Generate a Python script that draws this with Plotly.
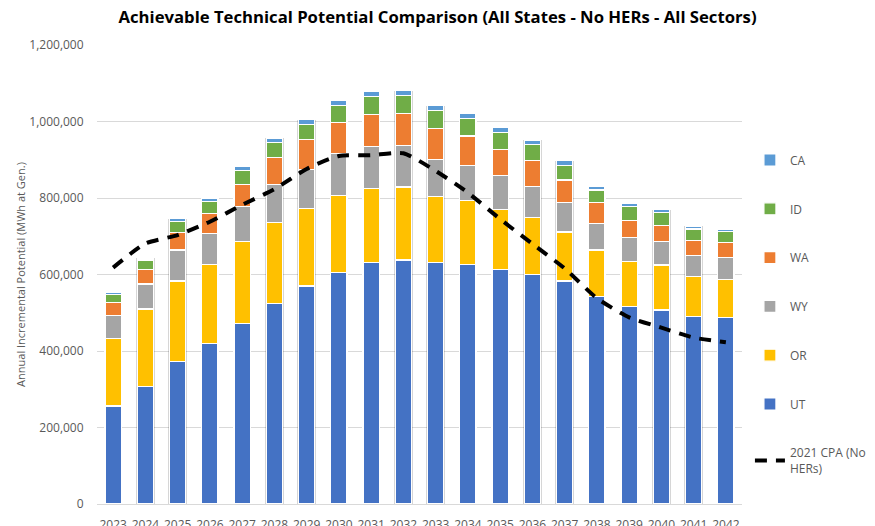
import plotly.graph_objects as go

years = [str(y) for y in range(2023, 2043)]
ut = [256, 307, 372, 419, 472, 525, 570, 605, 631, 638, 631, 627, 614, 601, 583, 542, 516, 507, 491, 488]
or_ = [177, 203, 211, 208, 215, 211, 203, 201, 194, 191, 172, 166, 156, 149, 128, 122, 119, 118, 103, 99]
wy = [59, 65, 81, 81, 90, 100, 102, 111, 109, 108, 98, 91, 88, 81, 77, 70, 62, 61, 55, 58]
wa = [35, 38, 45, 52, 59, 70, 77, 81, 85, 83, 81, 78, 69, 68, 59, 54, 45, 42, 39, 38]
id_ = [21, 25, 29, 30, 35, 39, 41, 44, 46, 48, 46, 46, 45, 40, 39, 33, 35, 34, 31, 29]
ca = [5, 5, 8, 9, 12, 11, 12, 13, 13, 13, 13, 12, 13, 12, 12, 10, 9, 7, 8, 7]
cpa = [618, 681, 703, 738, 782, 823, 876, 910, 912, 917, 871, 814, 745, 680, 616, 538, 488, 461, 435, 423]

def k(v):
    return [x * 1000 for x in v]

series = [
    ("UT", ut, "#4472C4", 6),
    ("OR", or_, "#FFC000", 5),
    ("WY", wy, "#A5A5A5", 4),
    ("WA", wa, "#ED7D31", 3),
    ("ID", id_, "#70AD47", 2),
    ("CA", ca, "#5B9BD5", 1),
]

totals = [sum(v) for v in zip(ut, or_, wy, wa, id_, ca)]

fig = go.Figure()

# subtle shadow behind bars
fig.add_trace(go.Bar(
    x=years, y=k(totals), width=0.58, marker=dict(color="rgba(0,0,0,0.16)", line=dict(width=0)),
    showlegend=False, hoverinfo="skip", xaxis="x", yaxis="y",
))

for name, vals, color, rank in series:
    fig.add_trace(go.Bar(
        x=years, y=k(vals), name=name, xaxis="x2", yaxis="y",
        marker=dict(color=color, line=dict(color="white", width=1.2)),
        width=0.5, legendgroup=name, legendrank=rank,
    ))

fig.add_trace(go.Scatter(
    x=years, y=k(cpa), name="2021 CPA (No<br>HERs)", mode="lines", xaxis="x2", yaxis="y",
    line=dict(color="black", width=4, dash="12px,9px", shape="spline", smoothing=0.6),
    legendgroup="cpa", legendrank=7,
))

fig.update_layout(
    width=875, height=526,
    barmode="stack",
    paper_bgcolor="white", plot_bgcolor="white",
    margin=dict(l=89, r=135, t=37, b=30),
    font=dict(family="Open Sans, sans-serif", color="#595959", size=12),
    title=dict(
        text="<b>Achievable Technical Potential Comparison (All States - No HERs - All Sectors)</b>",
        x=0.4909, xanchor="center", y=0.983, yanchor="middle",
        font=dict(family="Open Sans, sans-serif", size=16.7, color="#000000"),
    ),
    xaxis=dict(
        type="category", showgrid=False, showline=True, linecolor="#D9D9D9",
        ticks="outside", ticklen=10, tickcolor="rgba(0,0,0,0)", automargin=False,
        tickfont=dict(size=12, color="#595959"), range=[-0.5, 19.5],
    ),
    xaxis2=dict(
        type="category", overlaying="x", matches="x", showgrid=False, automargin=False,
        showticklabels=False, showline=False, range=[-0.5, 19.5],
    ),
    yaxis=dict(
        range=[0, 1200000], dtick=200000, tickformat=",", showgrid=True,
        gridcolor="#D9D9D9", gridwidth=1, zeroline=False, automargin=False,
        ticks="outside", ticklen=10, tickcolor="rgba(0,0,0,0)",
        tickfont=dict(size=12, color="#595959"),
        title=dict(text="Annual Incremental Potential (MWh at Gen.)",
                   font=dict(size=11, color="#595959"), standoff=1),
    ),
    legend=dict(
        x=1.0123, xanchor="left", y=0.781, yanchor="top",
        bgcolor="rgba(0,0,0,0)", font=dict(size=12, color="#595959"),
        tracegroupgap=29.8, itemwidth=30,
    ),
    showlegend=True,
)

fig.write_html("out.html")
